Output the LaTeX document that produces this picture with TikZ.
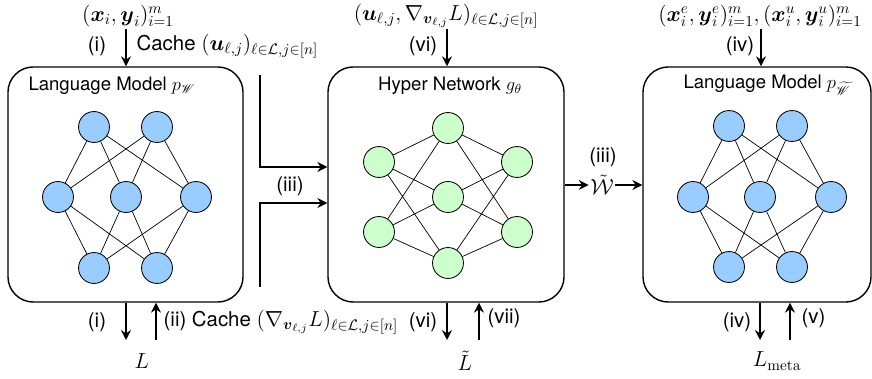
\RequirePackage{fix-cm}
\documentclass[tikz,border=0pt]{standalone}
\usepackage{amsmath}
\usepackage{mathrsfs}
\usepackage[no-math]{fontspec}
\setmainfont{TeX Gyre Heros}
\usetikzlibrary{arrows.meta}
\definecolor{nblue}{RGB}{153,204,255}
\definecolor{ngreen}{RGB}{204,255,204}
\newcommand{\mth}[1]{{\fontsize{15.5}{18}\selectfont$#1$}}

\begin{document}
\begin{tikzpicture}[x=0.025cm, y=-0.025cm,
    box/.style={draw, line width=1pt, rounded corners=18pt, minimum height=5.875cm},
    unit/.style={draw, circle, line width=0.6pt, minimum size=22pt, inner sep=0pt},
    link/.style={line width=0.5pt},
    arr/.style={-{Stealth[length=7pt,width=7pt]}, line width=1.3pt},
    lbl/.style={font=\fontsize{14.5}{17}\selectfont, inner sep=1pt},
    ttl/.style={font=\fontsize{13.2}{15}\selectfont},
    mth/.style={font=\fontsize{15.5}{18}\selectfont, inner sep=1pt}]
    \useasboundingbox (0,0) rectangle (872,379);

    % the three blocks
    \node[box, minimum width=5.875cm] (lm1) at (125.5,184.5) {};
    \node[box, minimum width=5.9cm] (hn) at (446,184.5) {};
    \node[box, minimum width=5.7cm] (lm2) at (757,184.5) {};
    \node[ttl] (t1) at (112,86) {Language Model $p_{\mathscr{W}}$};
    \node[ttl] (t2) at (450,86) {Hyper Network $g_\theta$};
    \node[ttl] (t3) at (767,85) {Language Model $p_{\widetilde{\mathscr{W}}}$};

    % language model (left)
    \node[unit, fill=nblue] (a1) at (94,127) {};
    \node[unit, fill=nblue] (a2) at (157,127) {};
    \node[unit, fill=nblue] (a3) at (58,197) {};
    \node[unit, fill=nblue] (a4) at (126,197) {};
    \node[unit, fill=nblue] (a5) at (196,197) {};
    \node[unit, fill=nblue] (a6) at (94,268) {};
    \node[unit, fill=nblue] (a7) at (157,268) {};
    \draw[link] (a1) -- (a3) (a1) -- (a4) (a1) -- (a5) (a2) -- (a3) (a2) -- (a4) (a2) -- (a5);
    \draw[link] (a3) -- (a6) (a3) -- (a7) (a4) -- (a6) (a4) -- (a7) (a5) -- (a6) (a5) -- (a7);

    % hyper network
    \node[unit, fill=ngreen] (h1) at (448,128) {};
    \node[unit, fill=ngreen] (h2) at (379,162) {};
    \node[unit, fill=ngreen] (h3) at (517,162) {};
    \node[unit, fill=ngreen] (h4) at (448,197) {};
    \node[unit, fill=ngreen] (h5) at (379,232) {};
    \node[unit, fill=ngreen] (h6) at (517,232) {};
    \node[unit, fill=ngreen] (h7) at (448,263) {};
    \draw[link] (h2) -- (h1) (h2) -- (h4) (h2) -- (h7) (h5) -- (h1) (h5) -- (h4) (h5) -- (h7);
    \draw[link] (h1) -- (h3) (h4) -- (h3) (h7) -- (h3) (h1) -- (h6) (h4) -- (h6) (h7) -- (h6);

    % language model (right)
    \node[unit, fill=nblue] (b1) at (729,126) {};
    \node[unit, fill=nblue] (b2) at (792,126) {};
    \node[unit, fill=nblue] (b3) at (693,197) {};
    \node[unit, fill=nblue] (b4) at (760,197) {};
    \node[unit, fill=nblue] (b5) at (831,197) {};
    \node[unit, fill=nblue] (b6) at (729,267) {};
    \node[unit, fill=nblue] (b7) at (792,267) {};
    \draw[link] (b1) -- (b3) (b1) -- (b4) (b1) -- (b5) (b2) -- (b3) (b2) -- (b4) (b2) -- (b5);
    \draw[link] (b3) -- (b6) (b3) -- (b7) (b4) -- (b6) (b4) -- (b7) (b5) -- (b6) (b5) -- (b7);

    % inputs on top
    \node[mth] (in1) at (128,16) {$(\boldsymbol{x}_i,\boldsymbol{y}_i)_{i=1}^m$};
    \node[mth] (in2) at (446,16) {$(\boldsymbol{u}_{\ell,j},\nabla_{\boldsymbol{v}_{\ell,j}}L)_{\ell\in\mathcal{L},j\in[n]}$};
    \node[mth] (in3) at (760,16) {$(\boldsymbol{x}^e_i,\boldsymbol{y}^e_i)_{i=1}^m,(\boldsymbol{x}^u_i,\boldsymbol{y}^u_i)_{i=1}^m$};
    \coordinate (s1) at (126,29);
    \coordinate (s2) at (447,29);
    \coordinate (s3) at (761,29);
    \draw[arr] (s1) -- (s1 |- lm1.north);
    \draw[arr] (s2) -- (s2 |- hn.north);
    \draw[arr] (s3) -- (s3 |- lm2.north);
    \node[lbl] (p1) at (97,46) {(i)};
    \node[lbl, anchor=west] (p2) at (135,46) {Cache \mth{(\boldsymbol{u}_{\ell,j})_{\ell\in\mathcal{L},j\in[n]}}};
    \node[lbl] (p3) at (423,46) {(vi)};
    \node[lbl] (p4) at (740,46) {(iv)};

    % (iii) into the hyper network
    \coordinate (c1) at (260,75);
    \coordinate (k1) at (260,167);
    \coordinate (c2) at (260,287);
    \coordinate (k2) at (260,203);
    \draw[arr] (c1) -- (k1) -- (k1 -| hn.west);
    \draw[arr] (c2) -- (k2) -- (k2 -| hn.west);
    \node[lbl] (p5) at (290,186) {(iii)};

    % generated weights
    \node[mth] (wt) at (602,185) {$\tilde{\mathcal{W}}$};
    \node[lbl] (p6) at (603,157) {(iii)};
    \draw[arr] (wt -| hn.east) -- (wt.west);
    \draw[arr] (wt.east) -- (wt -| lm2.west);

    % losses at the bottom
    \node[mth] (loss1) at (142,361) {$L$};
    \node[mth] (loss2) at (465,361) {$\tilde{L}$};
    \node[mth] (loss3) at (777,361) {$L_{\mathrm{meta}}$};
    \coordinate (d1) at (126,340);
    \coordinate (u1) at (156,340);
    \coordinate (d2) at (447,340);
    \coordinate (u2) at (479,340);
    \coordinate (d3) at (760,340);
    \coordinate (u3) at (790,340);
    \draw[arr] (d1 |- lm1.south) -- (d1);
    \draw[arr] (u1) -- (u1 |- lm1.south);
    \draw[arr] (d2 |- hn.south) -- (d2);
    \draw[arr] (u2) -- (u2 |- hn.south);
    \draw[arr] (d3 |- lm2.south) -- (d3);
    \draw[arr] (u3) -- (u3 |- lm2.south);
    \node[lbl] (q1) at (97,322) {(i)};
    \node[lbl, anchor=west] (q2) at (162,322) {(ii) Cache \mth{(\nabla_{\boldsymbol{v}_{\ell,j}}L)_{\ell\in\mathcal{L},j\in[n]}}};
    \node[lbl] (q3) at (423,322) {(vi)};
    \node[lbl, anchor=west] (q4) at (486,318) {(vii)};
    \node[lbl] (q5) at (737,322) {(iv)};
    \node[lbl, anchor=west] (q6) at (800,318) {(v)};
\end{tikzpicture}
\end{document}
